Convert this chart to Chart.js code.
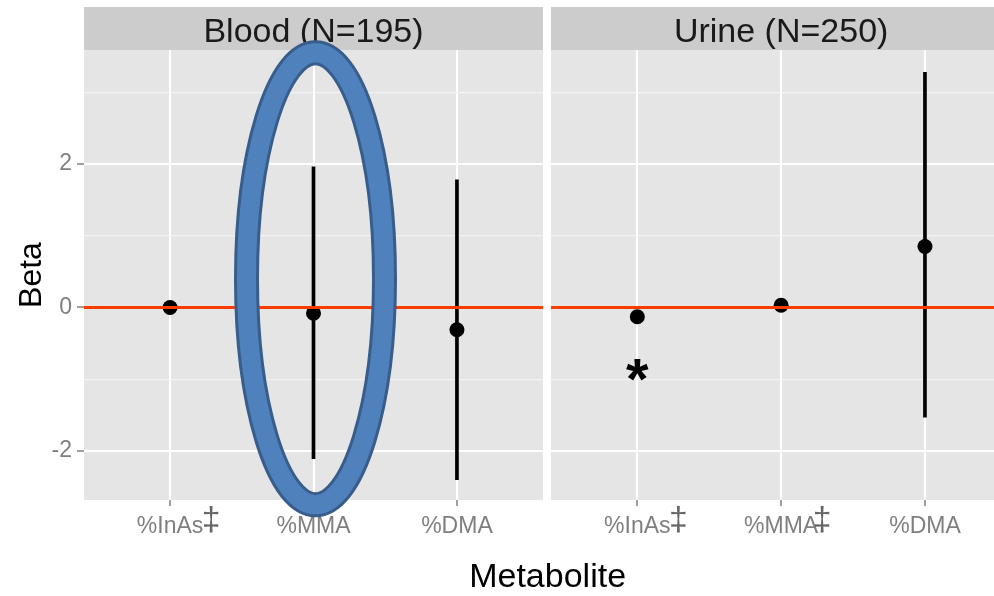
<!DOCTYPE html>
<html>
<head>
<meta charset="utf-8">
<script src="https://cdn.jsdelivr.net/npm/chart.js@4.4.1/dist/chart.umd.min.js"></script>
<style>
  html, body { margin: 0; padding: 0; background: #fff; overflow: hidden; }
  #wrap { position: relative; width: 994px; height: 596px; }
  canvas { position: absolute; left: 0; top: 0; }
</style>
</head>
<body>
<div id="wrap">
  <canvas id="blood" width="994" height="596"></canvas>
  <canvas id="urine" width="994" height="596"></canvas>
</div>
<script>
// facet data
const metabolites = ["%InAs", "%MMA", "%DMA"];

const bloodTitle = "Blood (N=195)";
const bloodBeta = [0.0, -0.08, -0.31];
const bloodLower = [-0.04, -2.11, -2.40];
const bloodUpper = [0.04, 1.96, 1.78];
const bloodDagger = [true, false, false];

const urineTitle = "Urine (N=250)";
const urineBeta = [-0.13, 0.03, 0.85];
const urineLower = [-0.16, 0.0, -1.53];
const urineUpper = [-0.10, 0.06, 3.28];
const urineDagger = [true, true, false];

const yTicks = [-2, -1, 0, 1, 2, 3]; // odd values are minor grid only
const refLine = 0;

const FONT = '"Liberation Sans", Arial, sans-serif';
const GREY = "#7f7f7f";

const isMajor = (v) => v % 2 === 0;

// pick a font size so the glyph ink is about `px` tall
function fitGlyph(ctx, ch, px, weight) {
  ctx.font = weight + " 100px " + FONT;
  const m = ctx.measureText(ch);
  const h = m.actualBoundingBoxAscent + m.actualBoundingBoxDescent;
  const size = (100 * px) / h;
  ctx.font = weight + " " + size + "px " + FONT;
  return ctx.measureText(ch);
}

function xScale(max) {
  return {
    type: "linear",
    min: 0.4,
    max: max,
    offset: false,
    afterBuildTicks: (s) => { s.ticks = [1, 2, 3].map((v) => ({ value: v })); },
    afterFit: (s) => { s.height = 96; },
    border: { display: false },
    grid: { offset: false, color: "#ffffff", lineWidth: 2, tickColor: GREY, tickLength: 6, tickWidth: 1.5 },
    ticks: {
      color: GREY,
      font: { family: FONT, size: 23 },
      padding: 7,
      maxRotation: 0,
      autoSkip: false,
      callback: (v) => metabolites[v - 1],
    },
  };
}

function yScale(showAxis) {
  return {
    type: "linear",
    min: -2.685,
    max: 3.59,
    afterBuildTicks: (s) => { s.ticks = yTicks.map((v) => ({ value: v })); },
    afterFit: (s) => { s.width = showAxis ? 84 : 0; },
    border: { display: false },
    grid: {
      color: (c) => (c.tick && isMajor(c.tick.value) ? "#ffffff" : "#f3f3f3"),
      lineWidth: (c) => (c.tick && isMajor(c.tick.value) ? 2 : 1.3),
      tickColor: (c) => (c.tick && isMajor(c.tick.value) ? GREY : "rgba(0,0,0,0)"),
      tickLength: 7,
      tickWidth: 1.5,
      drawTicks: showAxis,
    },
    ticks: {
      display: showAxis,
      color: GREY,
      font: { family: FONT, size: 23 },
      padding: 5,
      callback: (v) => (isMajor(v) ? String(v) : ""),
    },
    title: {
      display: showAxis,
      text: "Beta",
      color: "#000",
      font: { family: FONT, size: 32 },
      padding: { top: 13, bottom: 0 },
    },
  };
}

// strip, panel background, reference line and the hand-made marks
const facetPlugin = {
  id: "facet",
  beforeDraw(chart, args, opts) {
    const { ctx, chartArea: a } = chart;
    const xs = chart.scales.x;
    const cx = (xs.getPixelForValue(0.4) + xs.getPixelForValue(3.6)) / 2;
    ctx.save();
    ctx.fillStyle = "#e5e5e5";
    ctx.fillRect(a.left, a.top, a.right - a.left, a.bottom - a.top);
    ctx.fillStyle = "#cccccc";
    ctx.fillRect(a.left, 7, a.right - a.left, a.top - 7);
    ctx.fillStyle = "#1a1a1a";
    ctx.font = "34px " + FONT;
    ctx.textAlign = "center";
    ctx.textBaseline = "alphabetic";
    ctx.fillText(opts.title, cx, 42);
    ctx.restore();
  },
  afterDatasetsDraw(chart) {
    const { ctx, chartArea: a } = chart;
    const y = chart.scales.y.getPixelForValue(refLine);
    ctx.save();
    ctx.strokeStyle = "#ff3c00";
    ctx.lineWidth = 3;
    ctx.beginPath();
    ctx.moveTo(a.left, y);
    ctx.lineTo(a.right, y);
    ctx.stroke();
    ctx.restore();
  },
  afterDraw(chart, args, opts) {
    const { ctx } = chart;
    const xs = chart.scales.x;
    ctx.save();
    ctx.fillStyle = "#666666";
    ctx.textAlign = "center";
    ctx.textBaseline = "alphabetic";
    const m = fitGlyph(ctx, "\u2021", 27, "normal");
    (opts.dagger || []).forEach((d, i) => {
      if (!d) return;
      ctx.fillText("\u2021", xs.getPixelForValue(i + 1) + 41, 506 + m.actualBoundingBoxAscent);
    });
    ctx.restore();
    if (opts.extra) opts.extra(chart);
  },
};

function makeChart(id, beta, lower, upper, title, dagger, xmax, padding, showAxis, extra) {
  return new Chart(document.getElementById(id), {
    type: "bar",
    data: {
      datasets: [
        {
          type: "line",
          showLine: false,
          data: beta.map((v, i) => ({ x: i + 1, y: v })),
          pointRadius: 7.5,
          pointBackgroundColor: "#000",
          pointBorderWidth: 0,
          order: 1,
        },
        {
          type: "bar",
          data: lower.map((v, i) => ({ x: i + 1, y: [v, upper[i]] })),
          backgroundColor: "#000",
          barThickness: 3,
          order: 2,
        },
      ],
    },
    options: {
      responsive: false,
      animation: false,
      devicePixelRatio: 1,
      layout: { autoPadding: false, padding: padding },
      plugins: {
        legend: { display: false },
        tooltip: { enabled: false },
        facet: { title: title, dagger: dagger, extra: extra },
      },
      scales: { x: xScale(xmax), y: yScale(showAxis) },
    },
    plugins: [facetPlugin],
  });
}

const bloodChart = makeChart(
  "blood", bloodBeta, bloodLower, bloodUpper, bloodTitle, bloodDagger, 3.6,
  { left: 0, top: 50, right: 994 - 543, bottom: 0 }, true,
  (chart) => {
    // highlight ellipse around %MMA
    const { ctx } = chart;
    const cx = chart.scales.x.getPixelForValue(2) + 2;
    const cy = chart.scales.y.getPixelForValue(0.4);
    ctx.save();
    ctx.beginPath();
    ctx.ellipse(cx, cy, 69, 226, 0, 0, Math.PI * 2);
    ctx.strokeStyle = "#385d8a";
    ctx.lineWidth = 25;
    ctx.stroke();
    ctx.strokeStyle = "#4f81bd";
    ctx.lineWidth = 19;
    ctx.stroke();
    ctx.restore();
  }
);

const urineChart = makeChart(
  "urine", urineBeta, urineLower, urineUpper, urineTitle, urineDagger, 3.48,
  { left: 551, top: 50, right: 0, bottom: 0 }, false,
  (chart) => {
    const { ctx } = chart;
    // significance mark under %InAs
    const x = chart.scales.x.getPixelForValue(1);
    const y = chart.scales.y.getPixelForValue(-0.87);
    ctx.save();
    ctx.fillStyle = "#000";
    ctx.textAlign = "center";
    ctx.textBaseline = "alphabetic";
    const m = fitGlyph(ctx, "*", 22, "bold");
    ctx.fillText("*", x, y + (m.actualBoundingBoxAscent - m.actualBoundingBoxDescent) / 2);
    // shared x-axis title across both facets
    const left = bloodChart.scales.x.getPixelForValue(0.4);
    const right = chart.scales.x.getPixelForValue(3.6);
    ctx.font = "34px " + FONT;
    ctx.fillText("Metabolite", (left + right) / 2, 587);
    ctx.restore();
  }
);
</script>
</body>
</html>
